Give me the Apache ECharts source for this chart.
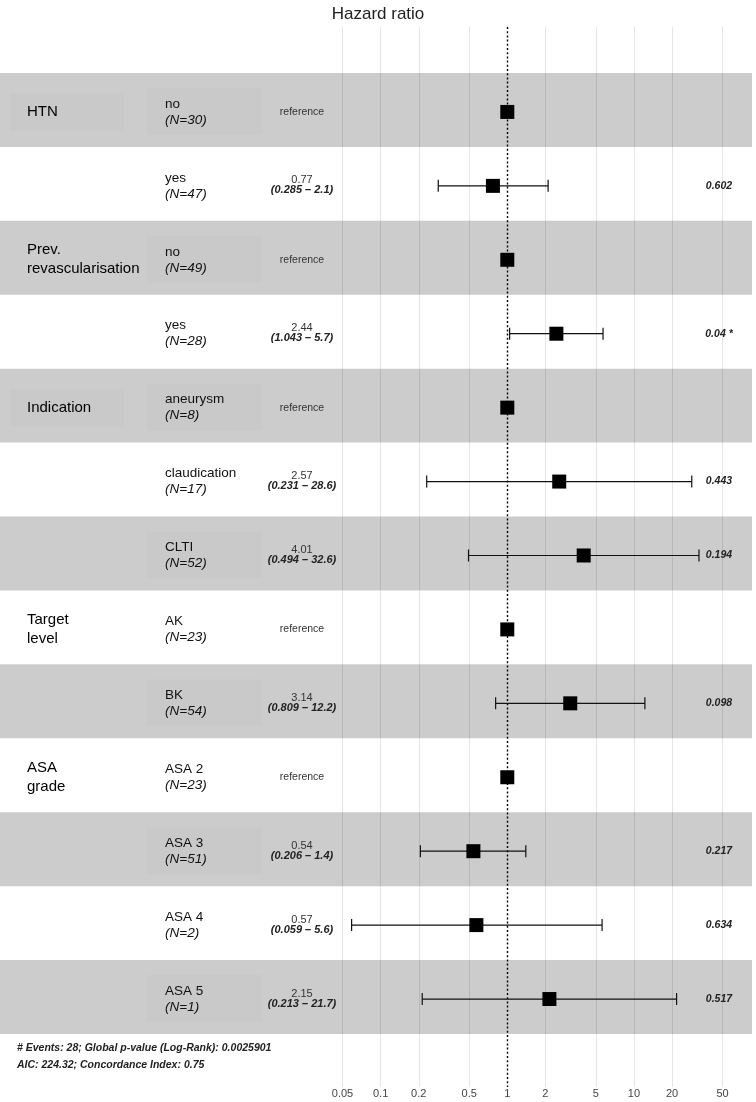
<!DOCTYPE html>
<html><head><meta charset="utf-8">
<script src="https://cdn.jsdelivr.net/npm/echarts@6/dist/echarts.min.js"></script>
<style>html,body{margin:0;padding:0;background:#fff}#c{width:756px;height:1102px}</style>
</head><body><div id="c"></div>
<script>
// ---------- data ----------
const variables = ['HTN', '', 'Prev.\nrevascularisation', '', 'Indication', '', '', 'Target\nlevel', '', 'ASA\ngrade', '', '', ''];
const levels = ['no', 'yes', 'no', 'yes', 'aneurysm', 'claudication', 'CLTI', 'AK', 'BK', 'ASA 2', 'ASA 3', 'ASA 4', 'ASA 5'];
const counts = [30, 47, 49, 28, 8, 17, 52, 23, 54, 23, 51, 2, 1];
const hazardRatios = [1, 0.77, 1, 2.44, 1, 2.57, 4.01, 1, 3.14, 1, 0.54, 0.57, 2.15];
const ciLow = [null, 0.285, null, 1.043, null, 0.231, 0.494, null, 0.809, null, 0.206, 0.059, 0.213];
const ciHigh = [null, 2.1, null, 5.7, null, 28.6, 32.6, null, 12.2, null, 1.4, 5.6, 21.7];
const estimateLabels = ['reference', '0.77', 'reference', '2.44', 'reference', '2.57', '4.01', 'reference', '3.14', 'reference', '0.54', '0.57', '2.15'];
const ciLabels = ['', '(0.285 – 2.1)', '', '(1.043 – 5.7)', '', '(0.231 – 28.6)', '(0.494 – 32.6)', '', '(0.809 – 12.2)', '', '(0.206 – 1.4)', '(0.059 – 5.6)', '(0.213 – 21.7)'];
const pValues = ['', '0.602', '', '0.04 *', '', '0.443', '0.194', '', '0.098', '', '0.217', '0.634', '0.517'];
const tickValues = [0.05, 0.1, 0.2, 0.5, 1, 2, 5, 10, 20, 50];
const tickLabels = ['0.05', '0.1', '0.2', '0.5', '1', '2', '5', '10', '20', '50'];
const footnotes = ['# Events: 28; Global p-value (Log-Rank): 0.0025901', 'AIC: 224.32; Concordance Index: 0.75'];
const title = 'Hazard ratio';

// ---------- layout ----------
const FONT = '"Liberation Sans", Arial, Helvetica, sans-serif';
const VAR_X = 27, LEVEL_X = 165, EST_X = 302, P_X = 719;
const BAND_LEFT = 0, BAND_RIGHT = 752;
const Y_MIN = -0.649, Y_MAX = 13.69;

const chart = echarts.init(document.getElementById('c'), null, { renderer: 'canvas' });

function txt(x, y, text, font, align, fill) {
  return { type: 'text', x: x, y: y, style: { text: text, font: font, textAlign: align, align: align, textVerticalAlign: 'middle', verticalAlign: 'middle', fill: fill || '#000' } };
}

const rowIdx = levels.map((_, i) => i);

const option = {
  animation: false,
  backgroundColor: '#fff',
  title: [
    { text: title, left: 'center', top: 1, textStyle: { fontFamily: FONT, fontSize: 17, fontWeight: 'normal', color: '#222' } },
    { text: footnotes.join('\n'), left: 12, top: 1035, textStyle: { fontFamily: FONT, fontSize: 10.5, fontStyle: 'italic', fontWeight: 'bold', color: '#222', lineHeight: 17 } }
  ],
  grid: { left: 342.5, right: 33.5, top: 27, bottom: 15 },
  xAxis: {
    type: 'log', logBase: 10, min: 0.05, max: 50,
    axisLine: { show: false }, axisTick: { show: false }, axisLabel: { show: false }, splitLine: { show: false }
  },
  yAxis: {
    type: 'value', min: Y_MIN, max: Y_MAX, inverse: true, show: false,
    axisLine: { show: false }, axisTick: { show: false }, axisLabel: { show: false }, splitLine: { show: false }
  },
  series: [
    { // shaded row bands (with faint label boxes)
      type: 'custom', z: 1, silent: true,
      data: rowIdx.filter(i => i % 2 === 0).map(i => [1, i]),
      renderItem: function (params, api) {
        const r = api.value(1);
        const top = api.coord([1, r])[1] - 2;
        const bot = api.coord([1, r + 1])[1] - 2;
        const mid = (top + bot) / 2 + 2;
        const kids = [
          { type: 'rect', shape: { x: BAND_LEFT, y: top, width: BAND_RIGHT - BAND_LEFT, height: bot - top }, style: { fill: '#cccccc' } },
          { type: 'rect', shape: { x: 147, y: mid - 24, width: 115, height: 47 }, style: { fill: 'rgba(0,0,0,0.012)' } }
        ];
        if (variables[r] && variables[r].indexOf('\n') < 0) {
          kids.push({ type: 'rect', shape: { x: 10, y: mid - 19, width: 114, height: 38 }, style: { fill: 'rgba(0,0,0,0.012)' } });
        }
        return { type: 'group', children: kids };
      },
      markLine: {
        silent: true, symbol: 'none', z: 3, animation: false,
        label: { show: false },
        data: tickValues.filter(v => v !== 1).map(v => ({ xAxis: v, lineStyle: { color: 'rgba(0,0,0,0.1)', width: 1, type: 'solid' } }))
          .concat([{ xAxis: 1, lineStyle: { color: '#000', width: 1.4, type: [2, 2.2] } }])
      }
    },
    { // text table
      type: 'custom', z: 8, silent: true,
      data: rowIdx.map(i => [1, i + 0.5]),
      renderItem: function (params, api) {
        const i = params.dataIndex;
        const y = api.coord([1, api.value(1)])[1];
        const children = [];
        const v = variables[i];
        if (v) {
          const lines = v.split('\n');
          if (lines.length === 1) children.push(txt(VAR_X, y, lines[0], '15px ' + FONT, 'left', '#000'));
          else {
            children.push(txt(VAR_X, y - 9.5, lines[0], '15px ' + FONT, 'left', '#000'));
            children.push(txt(VAR_X, y + 9.5, lines[1], '15px ' + FONT, 'left', '#000'));
          }
        }
        children.push(txt(LEVEL_X, y - 8, levels[i], '13.5px ' + FONT, 'left', '#111'));
        children.push(txt(LEVEL_X, y + 8, '(N=' + counts[i] + ')', 'italic 13.5px ' + FONT, 'left', '#111'));
        if (ciLabels[i]) {
          children.push(txt(EST_X, y - 5.5, estimateLabels[i], '11px ' + FONT, 'center', '#333'));
          children.push(txt(EST_X, y + 4.5, ciLabels[i], 'italic bold 11px ' + FONT, 'center', '#222'));
        } else {
          children.push(txt(EST_X, y, estimateLabels[i], '10.5px ' + FONT, 'center', '#333'));
        }
        if (pValues[i]) children.push(txt(P_X, y, pValues[i], 'italic bold 10.5px ' + FONT, 'center', '#222'));
        return { type: 'group', children: children };
      }
    },
    { // confidence intervals
      type: 'custom', z: 9, silent: true,
      data: rowIdx.filter(i => ciLow[i] != null).map(i => [ciLow[i], ciHigh[i], i + 0.5]),
      encode: { x: [0, 1], y: 2 },
      renderItem: function (params, api) {
        const a = api.coord([api.value(0), api.value(2)]);
        const b = api.coord([api.value(1), api.value(2)]);
        const s = { stroke: '#111', lineWidth: 1.2 };
        return { type: 'group', children: [
          { type: 'line', shape: { x1: a[0], y1: a[1], x2: b[0], y2: b[1] }, style: s },
          { type: 'line', shape: { x1: a[0], y1: a[1] - 6, x2: a[0], y2: a[1] + 6 }, style: s },
          { type: 'line', shape: { x1: b[0], y1: b[1] - 6, x2: b[0], y2: b[1] + 6 }, style: s }
        ] };
      }
    },
    { // point estimates
      type: 'scatter', z: 10, silent: true,
      symbol: 'rect', symbolSize: 14,
      itemStyle: { color: '#000', opacity: 1 },
      data: hazardRatios.map((h, i) => [h, i + 0.5])
    },
    { // tick labels
      type: 'custom', z: 8, silent: true,
      data: tickValues.map(v => [v, Y_MAX]),
      renderItem: function (params, api) {
        const p = api.coord([api.value(0), api.value(1)]);
        return txt(p[0], p[1] + 7, tickLabels[params.dataIndex], '11px ' + FONT, 'center', '#444');
      }
    }
  ]
};
chart.setOption(option);
</script>
</body></html>
